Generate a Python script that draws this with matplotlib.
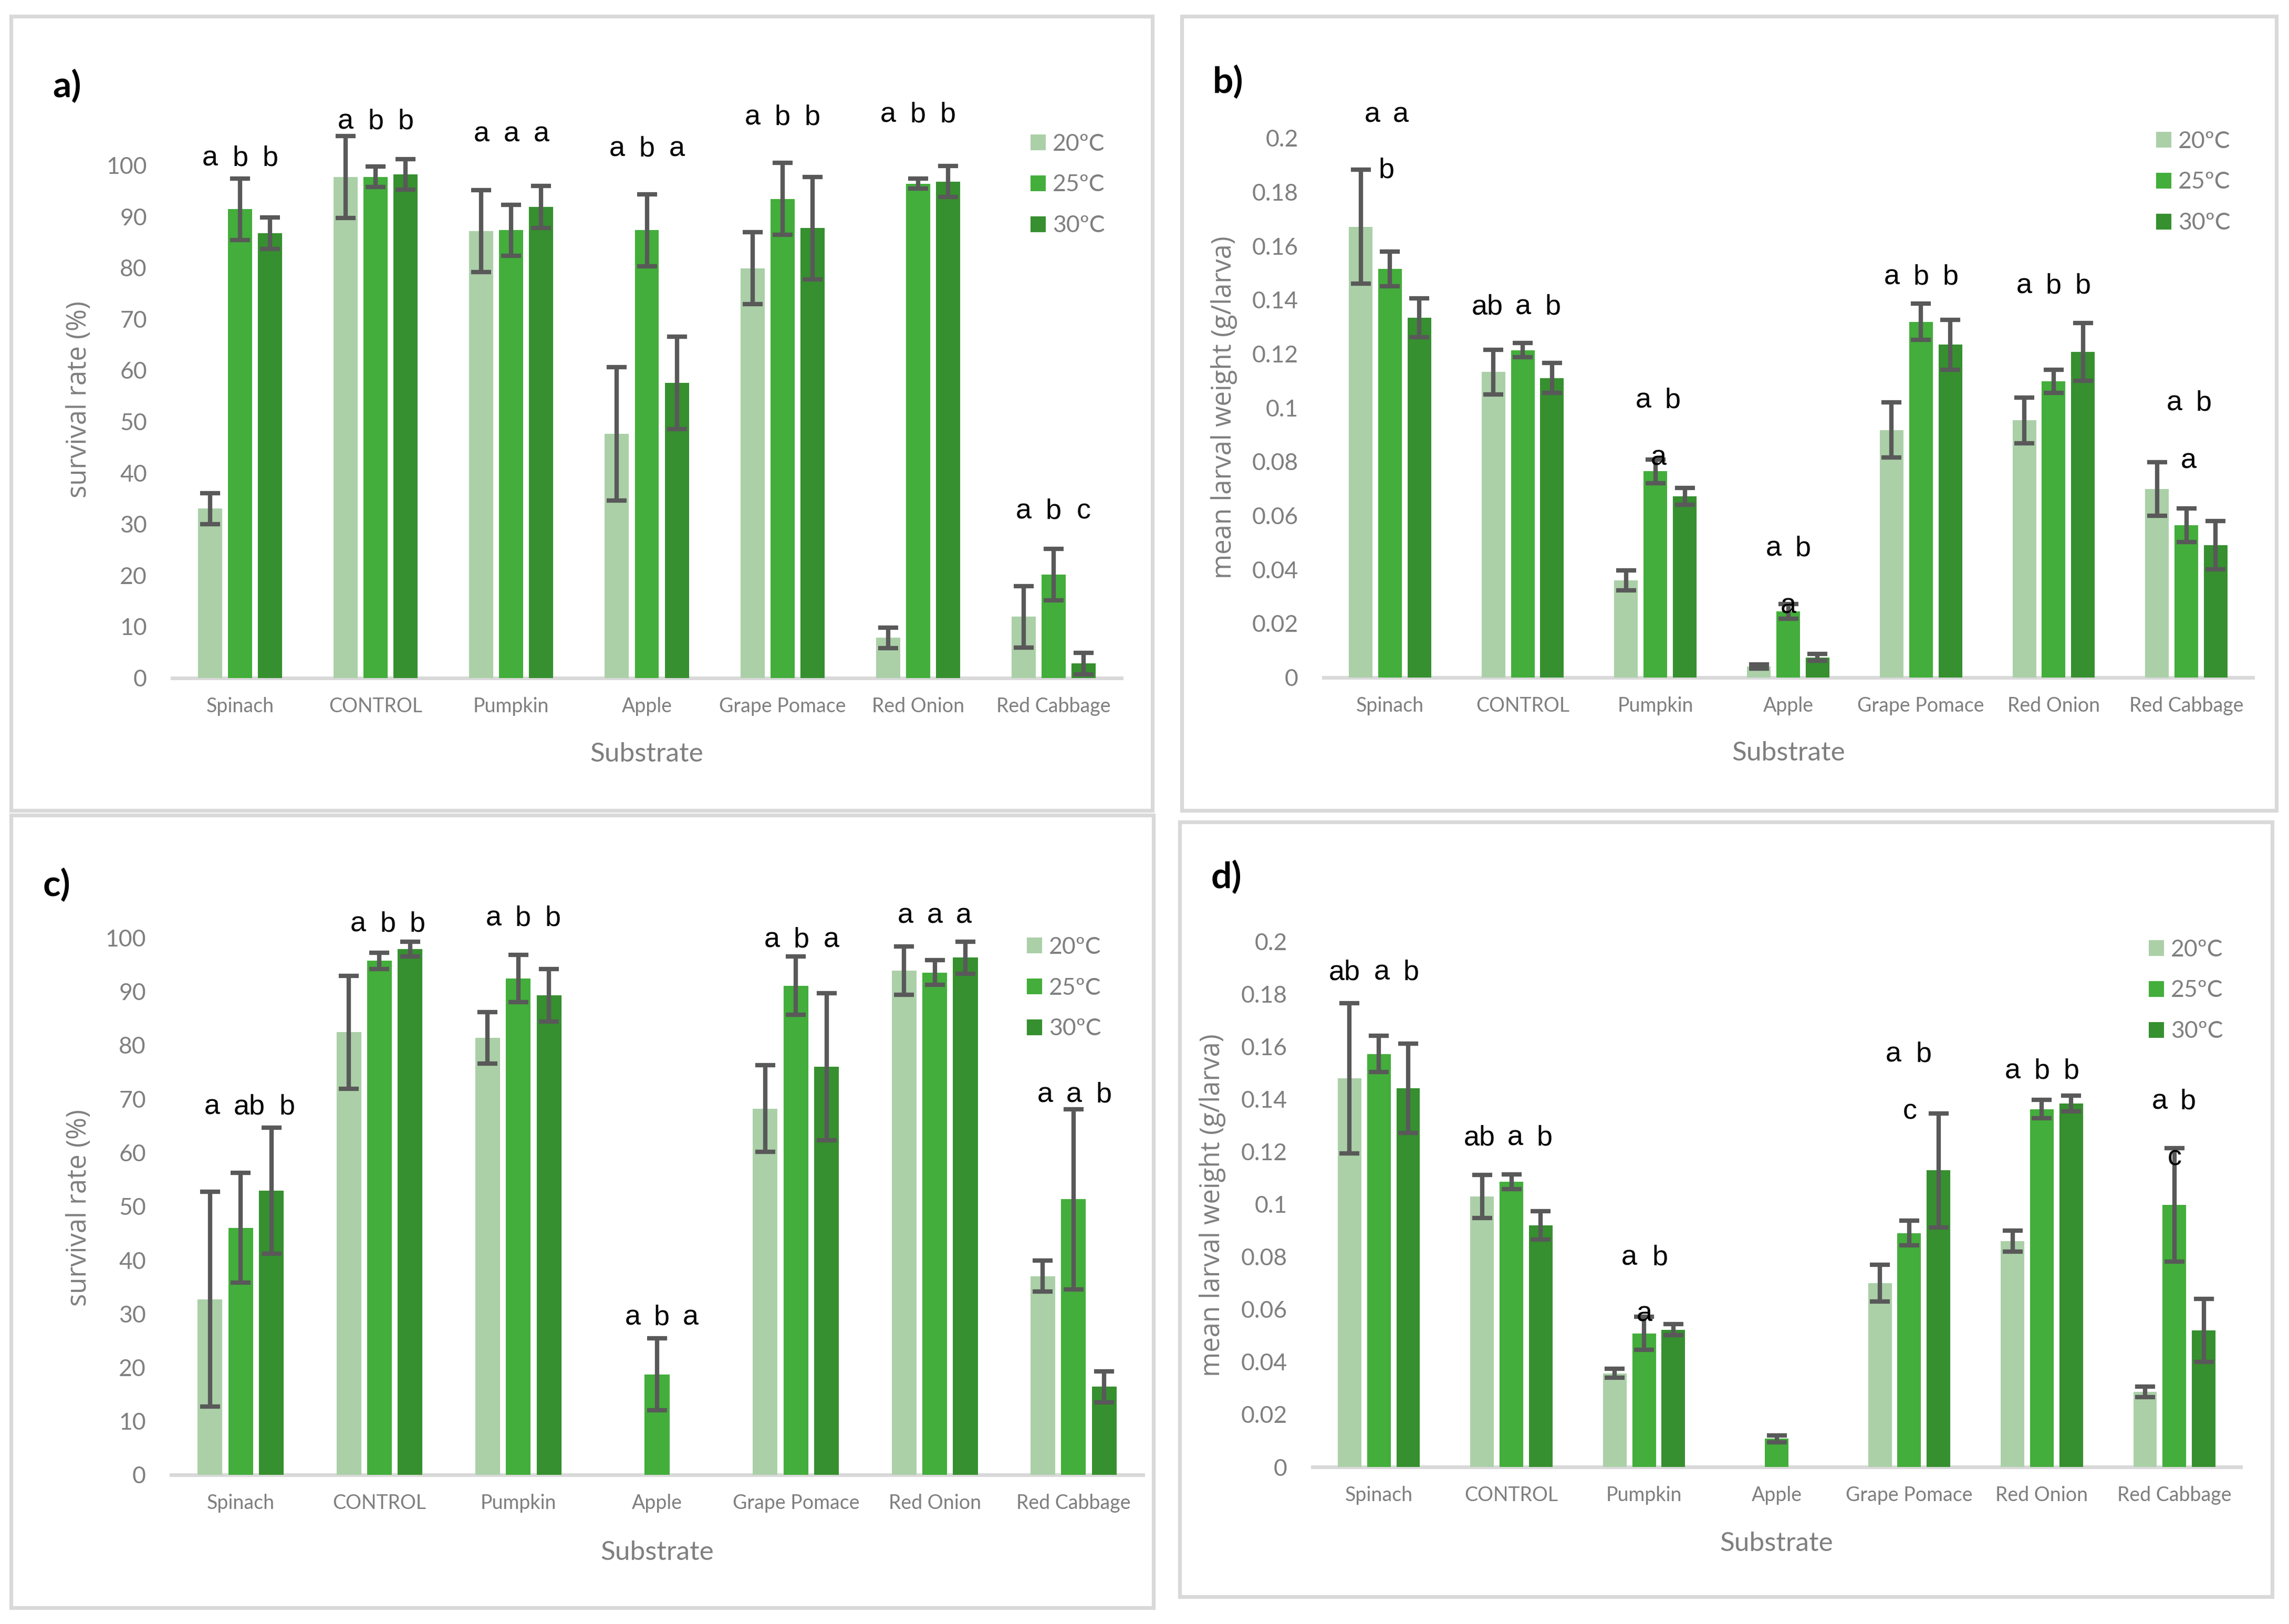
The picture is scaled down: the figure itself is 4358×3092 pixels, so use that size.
import numpy as np
import matplotlib
matplotlib.use("Agg")
import matplotlib.pyplot as plt
from matplotlib.patches import Rectangle

# ---------------- data ----------------
categories = ["Spinach", "CONTROL", "Pumpkin", "Apple", "Grape Pomace", "Red Onion", "Red Cabbage"]
temps = ["20ºC", "25ºC", "30ºC"]

# panel a) survival rate (%)
a_20 = [33.0, 97.7, 87.1, 47.6, 79.9, 7.8, 11.9]
a_20_err = [3.0, 8.0, 8.0, 13.0, 7.0, 2.0, 6.0]
a_25 = [91.4, 97.7, 87.3, 87.3, 93.4, 96.4, 20.1]
a_25_err = [6.0, 2.0, 5.0, 7.0, 7.0, 1.0, 5.0]
a_30 = [86.7, 98.2, 91.8, 57.5, 87.7, 96.8, 2.8]
a_30_err = [3.1, 3.0, 4.1, 9.0, 10.0, 3.0, 2.1]
a_letters = [["a", "b", "b"], ["a", "b", "b"], ["a", "a", "a"], ["a", "b", "a"],
             ["a", "b", "b"], ["a", "b", "b"], ["a", "b", "c"]]
a_letter_y = [[101.3] * 3, [108.5] * 3, [106.0] * 3, [103.2] * 3,
              [109.3] * 3, [109.8] * 3, [32.5] * 3]

# panel b) mean larval weight (g/larva)
b_20 = [0.1671, 0.1132, 0.0359, 0.0040, 0.0917, 0.0953, 0.0698]
b_20_err = [0.0212, 0.0083, 0.0037, 0.0007, 0.0102, 0.0085, 0.0099]
b_25 = [0.1514, 0.1213, 0.0764, 0.0244, 0.1318, 0.1097, 0.0564]
b_25_err = [0.0064, 0.0026, 0.0044, 0.0027, 0.0067, 0.0043, 0.0062]
b_30 = [0.1333, 0.1110, 0.0671, 0.0074, 0.1233, 0.1207, 0.0490]
b_30_err = [0.0072, 0.0055, 0.0032, 0.0013, 0.0092, 0.0107, 0.0089]
b_letters = [["a", "a", "b"], ["ab", "a", "b"], ["a", "b", "a"], ["a", "b", "a"],
             ["a", "b", "b"], ["a", "b", "b"], ["a", "b", "a"]]
b_letter_y = [[0.2087, 0.2087, 0.188], [0.1374] * 3, [0.1027, 0.1027, 0.0814],
              [0.0477, 0.0477, 0.0264], [0.1484] * 3, [0.1452] * 3,
              [0.1016, 0.1016, 0.0802]]

# panel c) survival rate (%)
c_20 = [32.7, 82.4, 81.4, 0.0, 68.2, 93.9, 37.0]
c_20_err = [20.0, 10.5, 4.8, 0.0, 8.1, 4.5, 2.9]
c_25 = [46.0, 95.7, 92.4, 18.7, 91.1, 93.5, 51.3]
c_25_err = [10.2, 1.5, 4.4, 6.7, 5.4, 2.3, 16.8]
c_30 = [52.9, 97.9, 89.3, 0.0, 76.0, 96.3, 16.4]
c_30_err = [11.7, 1.4, 4.9, 0.0, 13.7, 3.0, 2.9]
c_letters = [["a", "ab", "b"], ["a", "b", "b"], ["a", "b", "b"], ["a", "b", "a"],
             ["a", "b", "a"], ["a", "a", "a"], ["a", "a", "b"]]
c_letter_y = [[68.5] * 3, [102.5] * 3, [103.6] * 3, [29.3] * 3,
              [99.6] * 3, [104.1] * 3, [70.8] * 3]

# panel d) mean larval weight (g/larva)
d_20 = [0.1478, 0.1029, 0.0356, 0.0, 0.0700, 0.0859, 0.0285]
d_20_err = [0.0286, 0.0081, 0.0017, 0.0, 0.0070, 0.0040, 0.0020]
d_25 = [0.1571, 0.1084, 0.0508, 0.0107, 0.0890, 0.1361, 0.0997]
d_25_err = [0.0069, 0.0028, 0.0063, 0.0013, 0.0047, 0.0035, 0.0216]
d_30 = [0.1440, 0.0920, 0.0522, 0.0, 0.1128, 0.1383, 0.0520]
d_30_err = [0.0170, 0.0054, 0.0021, 0.0, 0.0216, 0.0030, 0.0120]
d_letters = [["ab", "a", "b"], ["ab", "a", "b"], ["a", "b", "a"], [],
             ["a", "b", "c"], ["a", "b", "b"], ["a", "b", "c"]]
d_letter_y = [[0.1881] * 3, [0.1252] * 3, [0.0797, 0.0797, 0.0582], [],
              [0.1569, 0.1569, 0.1351], [0.1505] * 3, [0.139, 0.139, 0.1175]]

# ---------------- layout (pixels, top-left origin) ----------------
W, H = 4358, 3092
DPI = 200
fig = plt.figure(figsize=(W / DPI, H / DPI), dpi=DPI)
fig.patch.set_facecolor("white")

def fx(x):
    return x / W

def fy(y):
    return 1 - y / H

COLORS = ["#ABD0A8", "#43AE3B", "#36902F"]
ERR = "#595959"
GRAY = "#7F7F7F"
AXIS = "#D9D9D9"
SP = 0.221   # bar centre spacing in category units
BW = 0.178   # bar width

panels = [
    dict(tag="a)", box=(21, 31, 2194, 1543), ax=(328, 314.4, 2135, 1290.5),
         series=[(a_20, a_20_err), (a_25, a_25_err), (a_30, a_30_err)],
         letters=a_letters, letter_y=a_letter_y,
         letter_dx=[[-1, 0, 1]] * 7,
         ymax=100, ystep=10, ylabel="survival rate (%)",
         tagpos=(128, 165), ylabpos=(151, 761), xlabpos=(1231, 1450),
         legpos=(1962, 352)),
    dict(tag="b)", box=(2250, 31, 4334, 1543), ax=(2520, 262.7, 4289, 1289.5),
         series=[(b_20, b_20_err), (b_25, b_25_err), (b_30, b_30_err)],
         letters=b_letters, letter_y=b_letter_y,
         letter_dx=[[-0.61, 0.37, -0.12], [-1.2, 0.02, 1.02], [-0.41, 0.59, 0.1],
                    [-0.5, 0.5, 0.0], [-1, 0, 1], [-1, 0, 1], [-0.41, 0.59, 0.07]],
         ymax=0.2, ystep=0.02, ylabel="mean larval weight (g/larva)",
         tagpos=(2338, 157), ylabpos=(2331, 776), xlabpos=(3405, 1448),
         legpos=(4105, 347)),
    dict(tag="c)", box=(21, 1552, 2196, 3061), ax=(326, 1785.5, 2176, 2808),
         series=[(c_20, c_20_err), (c_25, c_25_err), (c_30, c_30_err)],
         letters=c_letters, letter_y=c_letter_y,
         letter_dx=[[-0.93, 0.29, 1.51], [-0.7, 0.27, 1.24], [-0.8, 0.15, 1.12],
                    [-0.8, 0.15, 1.1], [-0.78, 0.17, 1.15], [-0.95, 0, 0.95],
                    [-0.93, 0.02, 0.98]],
         ymax=100, ystep=10, ylabel="survival rate (%)",
         tagpos=(108, 1685), ylabpos=(150, 2300), xlabpos=(1251, 2970),
         legpos=(1955, 1881)),
    dict(tag="d)", box=(2246, 1565, 4326, 3040), ax=(2499, 1792, 4266, 2793),
         series=[(d_20, d_20_err), (d_25, d_25_err), (d_30, d_30_err)],
         letters=d_letters, letter_y=d_letter_y,
         letter_dx=[[-1.17, 0.1, 1.1], [-1.1, 0.12, 1.12], [-0.5, 0.54, 0.02], [],
                    [-0.54, 0.49, 0.02], [-1, 0, 1], [-0.5, 0.46, 0.0]],
         ymax=0.2, ystep=0.02, ylabel="mean larval weight (g/larva)",
         tagpos=(2335, 1671), ylabpos=(2308, 2295), xlabpos=(3382, 2953),
         legpos=(4091, 1886)),
]

x = np.arange(len(categories))

for p in panels:
    # panel frame
    bx0, by0, bx1, by1 = p["box"]
    fig.add_artist(Rectangle((fx(bx0), fy(by1)), (bx1 - bx0) / W, (by1 - by0) / H,
                             transform=fig.transFigure, fill=False,
                             edgecolor=AXIS, lw=2.6))
    ax0, ay0, ax1, ay1 = p["ax"]
    ax = fig.add_axes([fx(ax0), fy(ay1), (ax1 - ax0) / W, (ay1 - ay0) / H])
    ax.set_facecolor("none")
    handles = []
    for k, (vals, errs) in enumerate(p["series"]):
        xs = x + (k - 1) * SP
        bars = ax.bar(xs, vals, width=BW, color=COLORS[k], zorder=2, label=temps[k])
        handles.append(bars)
        xe = [xx for xx, e in zip(xs, errs) if e > 0]
        ve = [v for v, e in zip(vals, errs) if e > 0]
        ee = [e for e in errs if e > 0]
        eb = ax.errorbar(xe, ve, yerr=ee, fmt="none", ecolor=ERR, elinewidth=3.0,
                         capsize=6.8, capthick=3.0, zorder=3)
        for art in list(eb.lines[1]) + list(eb.lines[2]):
            art.set_clip_on(False)
    # significance letters
    for i, (lets, ys, dxs) in enumerate(zip(p["letters"], p["letter_y"], p["letter_dx"])):
        for t, yv, dx in zip(lets, ys, dxs):
            ax.text(i + dx * SP, yv, t, ha="center", va="center", fontsize=19.4,
                    family=["Liberation Sans", "DejaVu Sans"], color="black",
                    clip_on=False, zorder=4)
    ax.set_xlim(-0.5, len(categories) - 0.5)
    ax.set_ylim(0, p["ymax"])
    ticks = np.round(np.arange(0, p["ymax"] + p["ystep"] / 2, p["ystep"]), 4)
    ax.set_yticks(ticks)
    ax.set_yticklabels([f"{t:g}" for t in ticks], fontsize=16, family="Lato", color=GRAY)
    ax.set_xticks(x)
    ax.set_xticklabels(categories, fontsize=13.5, family="Lato", color=GRAY)
    ax.tick_params(axis="y", length=0, pad=17.3)
    ax.tick_params(axis="x", length=0, pad=13)
    for s in ["top", "right", "left"]:
        ax.spines[s].set_visible(False)
    ax.spines["bottom"].set_color(AXIS)
    ax.spines["bottom"].set_linewidth(2.5)
    ax.spines["bottom"].set_zorder(1)

    # texts
    fig.text(fx(p["tagpos"][0]), fy(p["tagpos"][1]), p["tag"], ha="center", va="center",
             fontsize=25, fontweight="bold", family="Lato", color="black")
    fig.text(fx(p["ylabpos"][0]), fy(p["ylabpos"][1]), p["ylabel"], rotation=90,
             ha="center", va="center", fontsize=18.3, family="Open Sans", color=GRAY)
    fig.text(fx(p["xlabpos"][0]), fy(p["xlabpos"][1]), "Substrate", ha="center",
             va="baseline", fontsize=18.5, family="Lato", color=GRAY)
    fig.legend(handles, temps, loc="center left",
               bbox_to_anchor=(fx(p["legpos"][0]), fy(p["legpos"][1])),
               frameon=False, borderpad=0, borderaxespad=0,
               prop={"family": "Lato", "size": 16}, labelcolor=GRAY,
               handlelength=0.65, handleheight=0.65, handletextpad=0.3,
               labelspacing=0.83)

fig.savefig("out.png", dpi=DPI, facecolor="white")
